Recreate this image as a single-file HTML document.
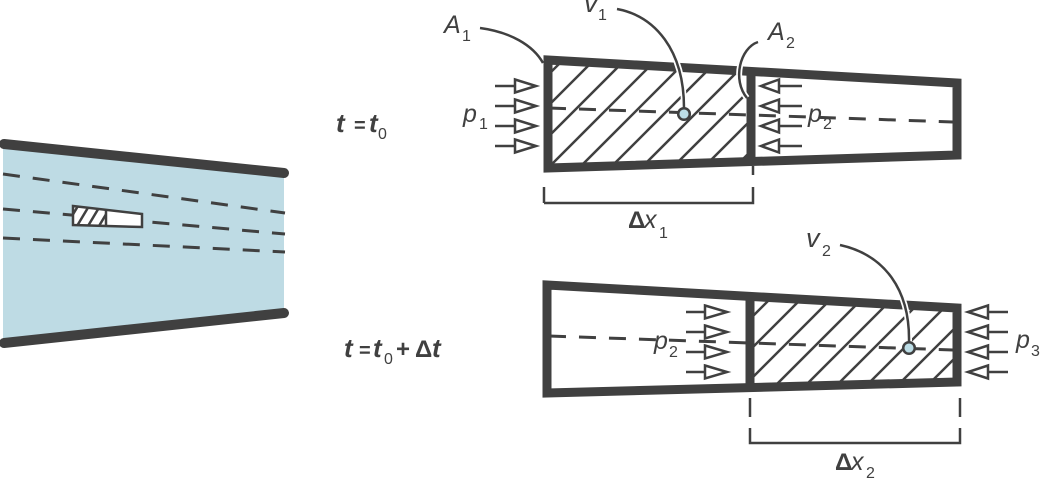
<!DOCTYPE html>
<html><head><meta charset="utf-8"><style>
html,body{margin:0;padding:0;background:#fff;}
svg{display:block;}
text{font-family:"Liberation Sans",sans-serif;fill:#404040;}
.v{font-style:italic;font-size:25px;}
.s{font-size:16px;}
.b{font-weight:bold;font-size:24px;}
.eq{font-weight:bold;font-size:20px;}
.bi{font-weight:bold;font-style:italic;font-size:26px;}
</style></head><body>
<svg width="1050" height="485" viewBox="0 0 1050 485" xmlns="http://www.w3.org/2000/svg">
<defs>
<clipPath id="c1"><polygon points="548,60 751,71.4 751,161.5 548,168"/></clipPath>
<clipPath id="c2"><polygon points="750,296.4 957,308 957,382 750,387.6"/></clipPath>
<clipPath id="c3"><polygon points="73,206 106,210 106,226 73,225"/></clipPath>
</defs>

<!-- left pipe -->
<polygon points="3,144 284,173 284,313 3,343" fill="#bedbe4"/>
<g stroke="#404040" stroke-width="3" stroke-dasharray="17 13" fill="none">
<line x1="3" y1="174" x2="285" y2="213"/>
<line x1="3" y1="209" x2="285" y2="234"/>
<line x1="3" y1="238" x2="285" y2="252"/>
</g>
<g stroke="#404040" stroke-width="10" stroke-linecap="round">
<line x1="4" y1="144" x2="284" y2="173"/>
<line x1="4" y1="343" x2="284" y2="313"/>
</g>
<polygon points="73,206 142,214 142,227 73,225" fill="#fff" stroke="#404040" stroke-width="2.5"/>
<g clip-path="url(#c3)" stroke="#404040" stroke-width="2.5">
<line x1="66" y1="226" x2="78" y2="206"/>
<line x1="77" y1="226" x2="89" y2="206"/>
<line x1="88" y1="226" x2="100" y2="206"/>
<line x1="99" y1="226" x2="111" y2="206"/>
</g>
<line x1="106" y1="209" x2="106" y2="226" stroke="#404040" stroke-width="2.5"/>

<!-- time labels -->
<text class="bi" x="336" y="132">t</text>
<text class="eq" x="354" y="132">=</text>
<text class="bi" x="369" y="132">t</text>
<text class="s" x="378" y="139">0</text>
<text class="bi" x="344" y="357">t</text>
<text class="eq" x="359" y="357">=</text>
<text class="bi" x="373" y="357">t</text>
<text class="s" x="384" y="364">0</text>
<text class="b" x="396" y="357">+</text>
<text class="b" x="415" y="357">Δ</text>
<text class="bi" x="432" y="357">t</text>

<!-- TOP DIAGRAM -->
<g clip-path="url(#c1)" stroke="#404040" stroke-width="2.5">
<line x1="443" y1="180" x2="593" y2="30"/>
<line x1="474" y1="180" x2="624" y2="30"/>
<line x1="505" y1="180" x2="655" y2="30"/>
<line x1="536" y1="180" x2="686" y2="30"/>
<line x1="567" y1="180" x2="717" y2="30"/>
<line x1="598" y1="180" x2="748" y2="30"/>
<line x1="629" y1="180" x2="779" y2="30"/>
<line x1="660" y1="180" x2="810" y2="30"/>
<line x1="691" y1="180" x2="841" y2="30"/>
<line x1="722" y1="180" x2="872" y2="30"/>
</g>
<line x1="549" y1="108" x2="953" y2="122" stroke="#404040" stroke-width="3" stroke-dasharray="17 13"/>
<polygon points="548,60 957,83 957,155 548,168" fill="none" stroke="#404040" stroke-width="9"/>
<line x1="751" y1="70" x2="751" y2="163" stroke="#404040" stroke-width="9"/>
<g stroke="#404040" stroke-width="2.5" fill="#fff" stroke-linejoin="miter">
<line x1="495" y1="86" x2="515" y2="86"/><polygon points="515,79.5 536,86 515,92.5"/>
<line x1="495" y1="106" x2="515" y2="106"/><polygon points="515,99.5 536,106 515,112.5"/>
<line x1="495" y1="126" x2="515" y2="126"/><polygon points="515,119.5 536,126 515,132.5"/>
<line x1="495" y1="146" x2="515" y2="146"/><polygon points="515,139.5 536,146 515,152.5"/>
<line x1="779" y1="86" x2="802" y2="86"/><polygon points="779,79.5 761,86 779,92.5"/>
<line x1="779" y1="106" x2="802" y2="106"/><polygon points="779,99.5 761,106 779,112.5"/>
<line x1="779" y1="126" x2="802" y2="126"/><polygon points="779,119.5 761,126 779,132.5"/>
<line x1="779" y1="146" x2="802" y2="146"/><polygon points="779,139.5 761,146 779,152.5"/>
</g>
<g fill="none" stroke-linecap="butt">
<path d="M480,28 C510,32 533,45 543,63" stroke="#404040" stroke-width="2.5"/>
<path d="M617,9 C655,16 684,50 684,108" stroke="#fff" stroke-width="6"/>
<path d="M617,9 C655,16 684,50 684,108" stroke="#404040" stroke-width="2.5"/>
<path d="M758,42 C740,48 732,80 747,98" stroke="#fff" stroke-width="6"/>
<path d="M758,42 C740,48 732,80 747,98" stroke="#404040" stroke-width="2.5"/>
</g>
<circle cx="684" cy="114" r="5.8" fill="#bcdde6" stroke="#404040" stroke-width="2.5"/>
<g stroke="#404040" stroke-width="2.5" fill="none">
<line x1="544" y1="187" x2="544" y2="203"/>
<line x1="753" y1="166" x2="753" y2="175"/>
<polyline points="544,203 753,203 753,187"/>
</g>
<text class="v" x="444" y="33">A</text><text class="s" x="462" y="41">1</text>
<text class="v" x="584" y="12" style="font-size:27px">v</text><text class="s" x="598" y="20">1</text>
<text class="v" x="768" y="40">A</text><text class="s" x="786" y="48">2</text>
<text class="v" x="463" y="122">p</text><text class="s" x="479" y="129">1</text>
<text class="v" x="808" y="122">p</text><text class="s" x="823" y="129">2</text>
<text class="b" x="628" y="228">Δ</text><text class="v" x="644" y="228">x</text><text class="s" x="659" y="238">1</text>

<!-- BOTTOM DIAGRAM -->
<g clip-path="url(#c2)" stroke="#404040" stroke-width="2.5">
<line x1="669" y1="400" x2="799" y2="270"/>
<line x1="700" y1="400" x2="830" y2="270"/>
<line x1="730" y1="400" x2="860" y2="270"/>
<line x1="761" y1="400" x2="891" y2="270"/>
<line x1="791" y1="400" x2="921" y2="270"/>
<line x1="822" y1="400" x2="952" y2="270"/>
<line x1="852" y1="400" x2="982" y2="270"/>
<line x1="883" y1="400" x2="1013" y2="270"/>
<line x1="913" y1="400" x2="1043" y2="270"/>
</g>
<line x1="549" y1="336" x2="953" y2="350" stroke="#404040" stroke-width="3" stroke-dasharray="17 13"/>
<polygon points="547,285 957,308 957,382 547,393" fill="none" stroke="#404040" stroke-width="9"/>
<line x1="750" y1="295" x2="750" y2="389" stroke="#404040" stroke-width="9"/>
<g stroke="#404040" stroke-width="2.5" fill="#fff">
<line x1="686" y1="312" x2="705" y2="312"/><polygon points="705,305.5 727,312 705,318.5"/>
<line x1="686" y1="332" x2="705" y2="332"/><polygon points="705,325.5 727,332 705,338.5"/>
<line x1="686" y1="352" x2="705" y2="352"/><polygon points="705,345.5 727,352 705,358.5"/>
<line x1="686" y1="372" x2="705" y2="372"/><polygon points="705,365.5 727,372 705,378.5"/>
<line x1="988" y1="312" x2="1008" y2="312"/><polygon points="988,305.5 968,312 988,318.5"/>
<line x1="988" y1="332" x2="1008" y2="332"/><polygon points="988,325.5 968,332 988,338.5"/>
<line x1="988" y1="352" x2="1008" y2="352"/><polygon points="988,345.5 968,352 988,358.5"/>
<line x1="988" y1="372" x2="1008" y2="372"/><polygon points="988,365.5 968,372 988,378.5"/>
</g>
<g fill="none">
<path d="M840,245 C885,255 910,290 909,342" stroke="#fff" stroke-width="6"/>
<path d="M840,245 C885,255 910,290 909,342" stroke="#404040" stroke-width="2.5"/>
</g>
<circle cx="909" cy="348" r="5.8" fill="#bcdde6" stroke="#404040" stroke-width="2.5"/>
<g stroke="#404040" stroke-width="2.5" fill="none">
<line x1="750" y1="398" x2="750" y2="417"/>
<line x1="960" y1="398" x2="960" y2="417"/>
<polyline points="750,428 750,443 960,443 960,428"/>
</g>
<text class="v" x="806" y="247" style="font-size:27px">v</text><text class="s" x="822" y="256">2</text>
<text class="v" x="654" y="349">p</text><text class="s" x="669" y="357">2</text>
<text class="v" x="1016" y="348">p</text><text class="s" x="1031" y="356">3</text>
<text class="b" x="835" y="470">Δ</text><text class="v" x="851" y="470">x</text><text class="s" x="866" y="478">2</text>
</svg>
</body></html>
